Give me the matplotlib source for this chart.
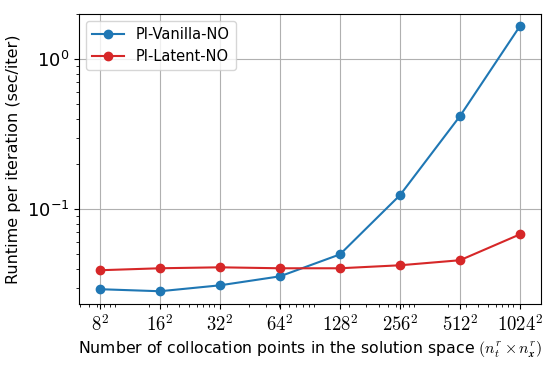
import matplotlib
matplotlib.use("Agg")
import matplotlib.pyplot as plt
import numpy as np

plt.rcParams['mathtext.fontset'] = 'cm'
plt.rcParams['font.family'] = ['DejaVu Sans']

base_n = [8, 16, 32, 64, 128, 256, 512, 1024]
tick_labels = [r"$8^2$", r"$16^2$", r"$32^2$", r"$64^2$", r"$128^2$", r"$256^2$", r"$512^2$", r"$1024^2$"]
vanilla = [0.0293, 0.0284, 0.0311, 0.0357, 0.050, 0.124, 0.417, 1.66]
latent = [0.0392, 0.0404, 0.0410, 0.0404, 0.0404, 0.0423, 0.0457, 0.068]

x = np.array(base_n, dtype=float) ** 2

fig = plt.figure(figsize=(5.56, 3.66), dpi=100)
ax = fig.add_axes([0.142, 0.169, 0.831, 0.793])
ax.plot(x, vanilla, '-o', color='#1f77b4', markersize=6, linewidth=1.5, label='PI-Vanilla-NO')
ax.plot(x, latent, '-o', color='#d62728', markersize=6, linewidth=1.5, label='PI-Latent-NO')
ax.set_xscale('log')
ax.set_yscale('log')
ax.set_xticks(x)
ax.set_xticklabels(tick_labels, fontsize=13.5)
ax.tick_params(axis='y', labelsize=13)
ax.set_ylim(0.0233, 2.0)
ax.grid(True, which='major', color='#b0b0b0', linewidth=0.8)
ax.set_axisbelow(True)
ax.set_ylabel('Runtime per iteration (sec/iter)', fontsize=11.5)
ax.set_xlabel(r'Number of collocation points in the solution space $(n_t^r \times n_{\boldsymbol{x}}^r)$', fontsize=11.3)
ax.legend(loc='upper left', fontsize=10.5, handlelength=2.2)
fig.savefig('out.png', dpi=100)
